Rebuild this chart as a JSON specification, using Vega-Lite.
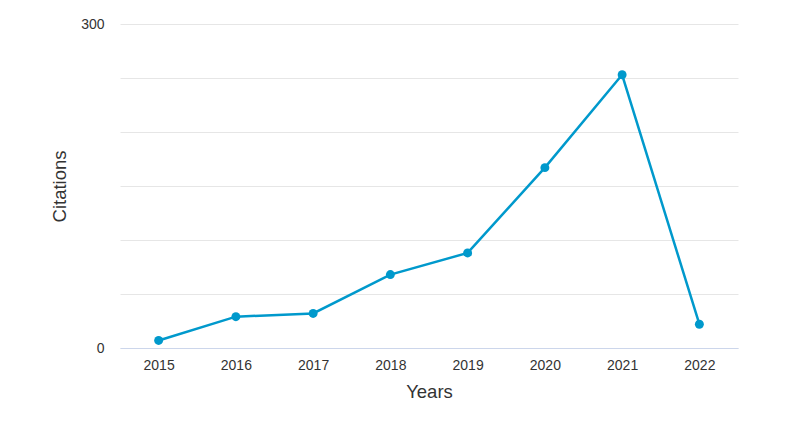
{
  "$schema": "https://vega.github.io/schema/vega-lite/v6.json",
  "width": 618,
  "height": 324,
  "autosize": "none",
  "padding": {"left": 120, "top": 24, "right": 64, "bottom": 85},
  "background": "white",
  "config": {
    "view": {"stroke": null},
    "font": "Liberation Sans"
  },
  "data": {
    "values": [
      {"year": "2015", "citations": 7},
      {"year": "2016", "citations": 29},
      {"year": "2017", "citations": 32},
      {"year": "2018", "citations": 68},
      {"year": "2019", "citations": 88},
      {"year": "2020", "citations": 167},
      {"year": "2021", "citations": 253},
      {"year": "2022", "citations": 22}
    ]
  },
  "encoding": {
    "x": {
      "field": "year",
      "type": "ordinal",
      "scale": {"type": "point", "padding": 0.5},
      "axis": {
        "title": "Years",
        "titleFontSize": 18.5,
        "titleFontWeight": "normal",
        "titleColor": "#333333",
        "titlePadding": 10,
        "labelAngle": 0,
        "labelFontSize": 14,
        "labelColor": "#333333",
        "labelPadding": 10,
        "ticks": false,
        "domainColor": "#ccd6eb",
        "domainWidth": 1,
        "grid": false
      }
    },
    "y": {
      "field": "citations",
      "type": "quantitative",
      "scale": {"domain": [0, 300], "nice": false},
      "axis": {
        "title": "Citations",
        "titleFontSize": 18.5,
        "titleFontWeight": "normal",
        "titleColor": "#333333",
        "titlePadding": 11,
        "values": [0, 50, 100, 150, 200, 250, 300],
        "labelExpr": "datum.value == 0 || datum.value == 300 ? datum.label : ''",
        "labelFontSize": 14,
        "labelColor": "#333333",
        "labelPadding": 16,
        "ticks": false,
        "domain": false,
        "grid": true,
        "gridColor": "#e6e6e6",
        "gridWidth": 1
      }
    }
  },
  "layer": [
    {
      "mark": {"type": "line", "color": "#0099cc", "strokeWidth": 2.5}
    },
    {
      "mark": {"type": "point", "filled": true, "color": "#0099cc", "size": 80, "opacity": 1}
    }
  ]
}
